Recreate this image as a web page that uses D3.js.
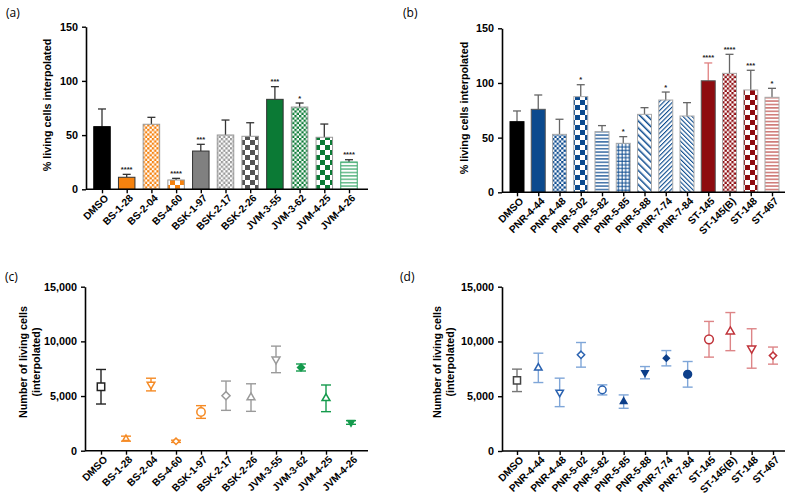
<!DOCTYPE html>
<html><head><meta charset="utf-8">
<script src="https://cdn.jsdelivr.net/npm/d3@7"></script>
<style>body{margin:0;background:#fff}svg{display:block}</style>
</head><body><svg id="c" width="795" height="504"></svg>
<script>
// ---------- DATA ----------
const catsA = ["DMSO","BS-1-28","BS-2-04","BS-4-60","BSK-1-97","BSK-2-17","BSK-2-26","JVM-3-55","JVM-3-62","JVM-4-25","JVM-4-26"];
const meanA = [57.8,11.1,60,8.6,35.3,50.1,48.9,83,75.9,48,25.2];
const sdA   = [16.3,2.7,6.4,1.5,6.2,13.8,12.5,11.7,3.7,12.2,2.1];
const sigA  = ["","****","","****","***","","","***","*","","****"];

const catsB = ["DMSO","PNR-4-44","PNR-4-48","PNR-5-02","PNR-5-82","PNR-5-85","PNR-5-88","PNR-7-74","PNR-7-84","ST-145","ST-145(B)","ST-148","ST-467"];
const meanB = [64.6,75.9,53,87.5,55.5,44.8,71.3,84.4,69.8,102,108.8,93.6,86.9];
const sdB   = [9.8,13.1,13.8,10.9,5.5,6.1,6.1,7.3,12.2,16.3,17.4,18,8.2];
const sigB  = ["","","","*","","*","","*","","****","****","***","*"];

const meanC = [5850,1100,6050,860,3540,5030,4860,8350,7610,4790,2580];
const sdC   = [1580,230,580,100,580,1340,1260,1215,320,1220,165];

const meanD = [6450,7590,5350,8780,5580,4510,7150,8470,7000,10200,10900,9360,8710];
const sdD   = [1025,1340,1300,1125,460,610,560,700,1170,1630,1740,1800,780];

const ticksPct = [0,50,100,150];
const ticksNum = [0,5000,10000,15000];

// ---------- STYLE ----------
const ORANGE="#f5820f", DGRAY="#555", GREEN="#0b7a35", LGREEN="#3aa86b",
      BLUE="#0b4a8e", RED="#8e0b0f", LRED="#c0504d";
const barStyleA = [
 {fill:"#000",stroke:"#000",err:"#333"},
 {fill:ORANGE,stroke:"#333",err:"#333"},
 {pat:"checkS",c:ORANGE,stroke:"#999",err:"#333"},
 {pat:"checkL",c:ORANGE,stroke:"#999",err:"#333"},
 {fill:"#808080",stroke:"#333",err:"#333"},
 {pat:"checkS",c:"#999",stroke:"#999",err:"#333"},
 {pat:"checkL",c:DGRAY,stroke:"#999",err:"#333"},
 {fill:GREEN,stroke:"#333",err:"#333"},
 {pat:"checkS",c:GREEN,stroke:"#999",err:"#333"},
 {pat:"checkL",c:GREEN,stroke:"#999",err:"#333"},
 {pat:"hstripe",c:LGREEN,stroke:LGREEN,err:"#333"}
];
const barStyleB = [
 {fill:"#000",stroke:"#000",err:"#666"},
 {fill:BLUE,stroke:"#555",err:"#666"},
 {pat:"checkS",c:BLUE,stroke:"#aaa",err:"#666"},
 {pat:"checkL",c:BLUE,stroke:"#aaa",err:"#666"},
 {pat:"hstripe",c:BLUE,stroke:"#aaa",err:"#666"},
 {pat:"grid",c:BLUE,stroke:"#aaa",err:"#666"},
 {pat:"diagW",c:BLUE,stroke:"#aaa",err:"#666"},
 {pat:"diagB",c:BLUE,stroke:"#aaa",err:"#666"},
 {pat:"diagF",c:BLUE,stroke:"#aaa",err:"#666"},
 {fill:RED,stroke:"#555",err:"#e08080"},
 {pat:"checkS",c:RED,stroke:"#aaa",err:"#666"},
 {pat:"checkL",c:RED,stroke:"#aaa",err:"#666"},
 {pat:"hstripe",c:LRED,stroke:"#aaa",err:"#666"}
];
const C_OR="#f58a24", C_GR="#9a9a9a", C_GN="#149a4c", C_BL="#2a62b0", C_DB="#0d3f8a", C_BLe="#7fa6d8", C_RD="#c0333a", C_RDe="#dd8587";
const markC = [
 {t:"square",fill:false,c:"#222",e:"#222",s:55},
 {t:"tri",fill:false,c:C_OR,e:C_OR,s:28},
 {t:"triD",fill:false,c:C_OR,e:C_OR,s:42},
 {t:"dia",fill:false,c:C_OR,e:C_OR,s:26},
 {t:"circle",fill:false,c:C_OR,e:C_OR,s:55},
 {t:"dia",fill:false,c:C_GR,e:C_GR,s:42},
 {t:"tri",fill:false,c:C_GR,e:C_GR,s:45},
 {t:"triD",fill:false,c:C_GR,e:C_GR,s:45},
 {t:"dia",fill:true,c:C_GN,e:C_GN,s:30},
 {t:"tri",fill:false,c:C_GN,e:C_GN,s:45},
 {t:"triD",fill:true,c:C_GN,e:C_GN,s:30}
];
const markD = [
 {t:"square",fill:false,c:"#444",e:"#777",s:50},
 {t:"tri",fill:false,c:C_BL,e:C_BLe,s:40},
 {t:"triD",fill:false,c:C_BL,e:C_BLe,s:40},
 {t:"dia",fill:false,c:C_BL,e:C_BLe,s:34},
 {t:"circle",fill:false,c:C_BL,e:C_BLe,s:45},
 {t:"tri",fill:true,c:C_DB,e:C_BLe,s:30},
 {t:"triD",fill:true,c:C_DB,e:C_BLe,s:30},
 {t:"dia",fill:true,c:C_DB,e:C_BLe,s:24},
 {t:"circle",fill:true,c:C_DB,e:C_BLe,s:48},
 {t:"circle",fill:false,c:C_RD,e:C_RDe,s:60},
 {t:"tri",fill:false,c:C_RD,e:C_RDe,s:48},
 {t:"triD",fill:false,c:C_RD,e:C_RDe,s:48},
 {t:"dia",fill:false,c:C_RD,e:C_RDe,s:34}
];

const svg = d3.select("#c");
svg.append("rect").attr("width",795).attr("height",504).attr("fill","#fff");
const defs = svg.append("defs");
let pid=0;
function pattern(type,color){
  const id="p"+(pid++);
  let p;
  if(type==="checkS"){
    p=defs.append("pattern").attr("id",id).attr("patternUnits","userSpaceOnUse").attr("width",4.6).attr("height",4.6);
    p.append("rect").attr("width",4.6).attr("height",4.6).attr("fill","#fff");
    p.append("rect").attr("width",2.3).attr("height",2.3).attr("fill",color);
    p.append("rect").attr("x",2.3).attr("y",2.3).attr("width",2.3).attr("height",2.3).attr("fill",color);
  } else if(type==="checkL"){
    p=defs.append("pattern").attr("id",id).attr("patternUnits","userSpaceOnUse").attr("width",10).attr("height",10);
    p.append("rect").attr("width",10).attr("height",10).attr("fill","#fff");
    p.append("rect").attr("width",5).attr("height",5).attr("fill",color);
    p.append("rect").attr("x",5).attr("y",5).attr("width",5).attr("height",5).attr("fill",color);
  } else if(type==="hstripe"){
    p=defs.append("pattern").attr("id",id).attr("patternUnits","userSpaceOnUse").attr("width",4).attr("height",3.4);
    p.append("rect").attr("width",4).attr("height",3.4).attr("fill","#fff");
    p.append("rect").attr("y",1.9).attr("width",4).attr("height",1.2).attr("fill",color);
  } else if(type==="grid"){
    p=defs.append("pattern").attr("id",id).attr("patternUnits","userSpaceOnUse").attr("width",3.6).attr("height",3.6);
    p.append("rect").attr("width",3.6).attr("height",3.6).attr("fill","#fff");
    p.append("rect").attr("y",2.4).attr("width",3.6).attr("height",1).attr("fill",color);
    p.append("rect").attr("x",2.4).attr("width",1).attr("height",3.6).attr("fill",color);
  } else {
    const sp = type==="diagW"?5:3.2, w = type==="diagW"?1.5:1.1, ang = type==="diagB"?45:-45;
    p=defs.append("pattern").attr("id",id).attr("patternUnits","userSpaceOnUse").attr("width",sp).attr("height",sp)
      .attr("patternTransform",`rotate(${ang})`);
    p.append("rect").attr("width",sp).attr("height",sp).attr("fill","#fff");
    p.append("rect").attr("width",w).attr("height",sp).attr("fill",color);
  }
  return `url(#${id})`;
}

const FONT="'Liberation Sans', Arial, sans-serif";

function axes(g, x, y, x0, x1, ticks, fmt){
  const ya = d3.axisLeft(y).tickValues(ticks).tickFormat(fmt).tickSize(4).tickSizeOuter(0);
  const gy = g.append("g").attr("transform",`translate(${x0},0)`).call(ya);
  gy.select(".domain").attr("stroke","#000").attr("stroke-width",1.6);
  gy.selectAll(".tick line").attr("stroke","#000").attr("stroke-width",1.4);
  gy.selectAll(".tick text").attr("font-family",FONT).attr("font-weight","bold").attr("font-size",10.8).attr("fill","#000").attr("dx","-1");
  const yb = y.range()[0];
  g.append("line").attr("x1",x0).attr("x2",x1).attr("y1",yb).attr("y2",yb).attr("stroke","#000").attr("stroke-width",1.6);
  const xa = d3.axisBottom(x).tickSize(4).tickSizeOuter(0);
  const gx = g.append("g").attr("transform",`translate(0,${yb})`).call(xa);
  gx.select(".domain").remove();
  gx.selectAll(".tick line").attr("stroke","#000").attr("stroke-width",1.4);
  gx.selectAll(".tick text").attr("font-family",FONT).attr("font-weight","bold").attr("font-size",10.2).attr("fill","#000")
    .attr("text-anchor","end").attr("transform","translate(4,7) rotate(-45)").attr("dy","0.35em").attr("y",0).attr("x",0);
}

function ylabel(g, lines, xs, yc, size){
  lines.forEach((t,i)=>{
    g.append("text").attr("transform",`translate(${xs[i]},${yc}) rotate(-90)`).attr("text-anchor","middle")
      .attr("font-family",FONT).attr("font-weight","bold").attr("font-size",size).attr("fill","#000").text(t);
  });
}
function panelTag(t,x,y){
  svg.append("text").attr("x",x).attr("y",y).attr("font-family","'Open Sans', sans-serif").attr("font-size",12).attr("fill","#000").text(t);
}

function barPanel(cats, mean, sd, sig, styles, X0, X1, Y0, Y1, p0, p1, bw){
  const g = svg.append("g");
  const x = d3.scalePoint().domain(cats).range([p0,p1]);
  const y = d3.scaleLinear().domain([0,150]).range([Y1,Y0]);
  cats.forEach((c,i)=>{
    const st = styles[i];
    const fill = st.pat ? pattern(st.pat, st.c) : st.fill;
    const cx = x(c);
    g.append("line").attr("x1",cx).attr("x2",cx).attr("y1",y(mean[i])).attr("y2",y(mean[i]+sd[i])).attr("stroke",st.err).attr("stroke-width",1.3);
    g.append("line").attr("x1",cx-4).attr("x2",cx+4).attr("y1",y(mean[i]+sd[i])).attr("y2",y(mean[i]+sd[i])).attr("stroke",st.err).attr("stroke-width",1.3);
    g.append("rect").attr("x",cx-bw/2).attr("y",y(mean[i])).attr("width",bw).attr("height",y(0)-y(mean[i]))
      .attr("fill",fill).attr("stroke",st.stroke).attr("stroke-width",1);
    if(sig[i]) g.append("text").attr("x",cx).attr("y",y(mean[i]+sd[i])-2.5).attr("text-anchor","middle")
      .attr("font-family",FONT).attr("font-weight","bold").attr("font-size",7.5).attr("fill","#222").text(sig[i]);
  });
  axes(g,x,y,X0,X1,ticksPct,d3.format("d"));
  return g;
}

function symPath(t,s){
  if(t==="square") return d3.symbol(d3.symbolSquare,s)();
  if(t==="circle") return d3.symbol(d3.symbolCircle,s)();
  if(t==="dia") return d3.symbol(d3.symbolDiamond2,s)();
  return d3.symbol(d3.symbolTriangle2,s)();
}
function dotPanel(cats, mean, sd, marks, X0, X1, Y0, Y1, p0, p1){
  const g = svg.append("g");
  const x = d3.scalePoint().domain(cats).range([p0,p1]);
  const y = d3.scaleLinear().domain([0,15000]).range([Y1,Y0]);
  cats.forEach((c,i)=>{
    const m = marks[i], cx=x(c);
    const lo=y(mean[i]-sd[i]), hi=y(mean[i]+sd[i]);
    g.append("line").attr("x1",cx).attr("x2",cx).attr("y1",lo).attr("y2",hi).attr("stroke",m.e).attr("stroke-width",1.4);
    [lo,hi].forEach(v=>g.append("line").attr("x1",cx-5).attr("x2",cx+5).attr("y1",v).attr("y2",v).attr("stroke",m.e).attr("stroke-width",1.4));
    const rot = m.t==="triD" ? " rotate(180)" : "";
    g.append("path").attr("d",symPath(m.t,m.s)).attr("transform",`translate(${cx},${y(mean[i])})${rot}`)
      .attr("fill",m.fill?m.c:"#fff").attr("stroke",m.c).attr("stroke-width",1.5);
  });
  axes(g,x,y,X0,X1,ticksNum,d3.format(","));
  return g;
}

// (a)
const ga = barPanel(catsA, meanA, sdA, sigA, barStyleA, 86, 368, 26.7, 189.3, 102, 349, 16.5);
ylabel(ga, ["% living cells interpolated"], [51], 105, 10.8);
panelTag("(a)", 6, 17);
// (b)
const gb = barPanel(catsB, meanB, sdB, sigB, barStyleB, 502, 785, 28.3, 192.3, 517, 772, 14);
ylabel(gb, ["% living cells interpolated"], [468], 108, 10.8);
panelTag("(b)", 403, 17);
// (c)
const gc = dotPanel(catsA, meanC, sdC, markC, 85, 368, 286.7, 450.7, 101, 351);
ylabel(gc, ["Number of  living cells","(interpolated)"], [27, 40], 362, 10.8);
panelTag("(c)", 5, 281);
// (d)
const gd = dotPanel(catsB, meanD, sdD, markD, 502, 785, 286.7, 451, 517, 773);
ylabel(gd, ["Number of  living cells","(interpolated)"], [441, 454], 362, 10.8);
panelTag("(d)", 400, 281);
</script></body></html>
